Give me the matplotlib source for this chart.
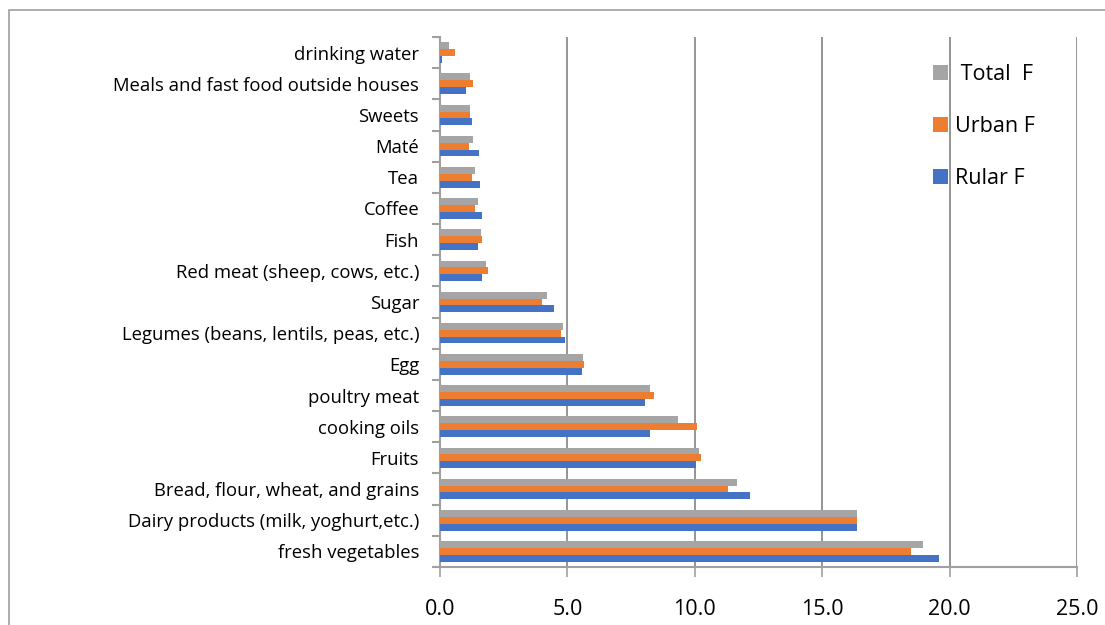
import matplotlib
matplotlib.use("Agg")
import matplotlib.pyplot as plt
import numpy as np
from matplotlib.patches import Rectangle

categories = [
    "fresh vegetables",
    "Dairy products (milk, yoghurt,etc.)",
    "Bread, flour, wheat, and grains",
    "Fruits",
    "cooking oils",
    "poultry meat",
    "Egg",
    "Legumes (beans, lentils, peas, etc.)",
    "Sugar",
    "Red meat (sheep, cows, etc.)",
    "Fish",
    "Coffee",
    "Tea",
    "Maté",
    "Sweets",
    "Meals and fast food outside houses",
    "drinking water",
]
total_f = [18.95, 16.35, 11.65, 10.16, 9.36, 8.25, 5.60, 4.81, 4.19, 1.79, 1.59, 1.49, 1.38, 1.29, 1.19, 1.19, 0.37]
urban_f = [18.50, 16.38, 11.30, 10.23, 10.10, 8.41, 5.64, 4.76, 4.02, 1.90, 1.63, 1.38, 1.25, 1.13, 1.16, 1.28, 0.58]
rular_f = [19.60, 16.35, 12.17, 10.04, 8.25, 8.06, 5.59, 4.90, 4.48, 1.63, 1.49, 1.65, 1.57, 1.52, 1.24, 1.03, 0.08]
x_ticks = [0, 5, 10, 15, 20, 25]

plt.rcParams['font.family'] = ['Open Sans', 'DejaVu Sans']

W, H = 1105, 625
fig = plt.figure(figsize=(W / 100, H / 100), dpi=100)
ax = fig.add_axes([440 / W, 1 - 567 / H, (1077 - 440) / W, (567 - 37) / H])

n = len(categories)
y = np.arange(n)
bh = 0.22
c_total, c_urban, c_rular = "#A5A5A5", "#ED7D31", "#4472C4"
b1 = ax.barh(y + bh, total_f, height=bh, color=c_total, label=" Total  F", zorder=3)
b2 = ax.barh(y, urban_f, height=bh, color=c_urban, label="Urban F", zorder=3)
b3 = ax.barh(y - bh, rular_f, height=bh, color=c_rular, label="Rular F", zorder=3)

ax.set_xlim(0, 25)
ax.set_ylim(-0.5, n - 0.5)
ax.set_xticks(x_ticks)
ax.set_xticklabels([f"{v:.1f}" for v in x_ticks], fontsize=15.5)
ax.set_yticks(np.arange(n + 1) - 0.5)
ax.set_yticklabels([])
ax.set_yticks(y, minor=True)
ax.set_yticklabels(categories, minor=True, fontsize=13.3)
ax.tick_params(axis='y', which='minor', length=0, pad=15)
ax.tick_params(axis='y', which='major', length=6, color="#A0A0A0", width=1.5)
ax.tick_params(axis='x', length=7, color="#A0A0A0", width=1.2, pad=16)

for s in ['top', 'right']:
    ax.spines[s].set_visible(False)
ax.spines['left'].set_color("#A0A0A0")
ax.spines['left'].set_linewidth(1.5)
ax.spines['bottom'].set_color("#A0A0A0")
ax.spines['bottom'].set_linewidth(1.5)
ax.xaxis.grid(True, color="#8C8C8C", linewidth=1.3, zorder=0)
ax.set_axisbelow(True)

leg = ax.legend(handles=[b1, b2, b3], loc='upper left',
                bbox_to_anchor=((924 - 440) / (1077 - 440), 1 - 18 / 530),
                frameon=False, fontsize=15.5, handlelength=0.7, handleheight=0.7,
                handletextpad=0.35, labelspacing=1.45, borderaxespad=0)

fig.patches.append(Rectangle((9 / W, -0.1), 1.2, 1 - 10 / H + 0.1, transform=fig.transFigure,
                             fill=False, edgecolor="#A0A0A0", linewidth=1.2))

fig.savefig("out.png", dpi=100)
